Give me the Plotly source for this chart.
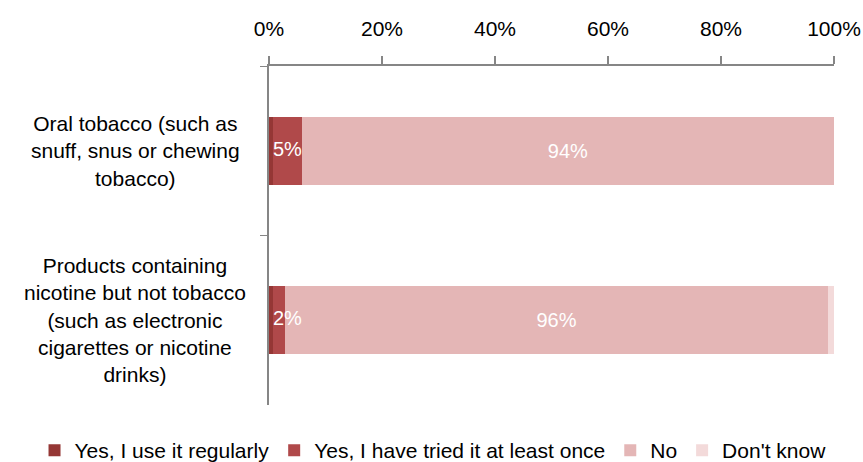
import plotly.graph_objects as go

categories = ["Oral tobacco (such as<br>snuff, snus or chewing<br>tobacco)",
              "Products containing<br>nicotine but not tobacco<br>(such as electronic<br>cigarettes or nicotine<br>drinks)"]
series_names = ["Yes, I use it regularly", "Yes, I have tried it at least once", "No", "Don't know"]
values = {
    "Yes, I use it regularly": [0.7, 0.7],
    "Yes, I have tried it at least once": [5.1, 2.1],
    "No": [94.2, 96.2],
    "Don't know": [0.0, 1.0],
}
labels = {
    "Yes, I use it regularly": ["", ""],
    "Yes, I have tried it at least once": ["5%", "2%"],
    "No": ["94%", "96%"],
    "Don't know": ["", ""],
}
colors = ["#953735", "#B0494A", "#E4B6B6", "#F3DADA"]
tick_vals = [0, 20, 40, 60, 80, 100]
tick_text = ["0%", "20%", "40%", "60%", "80%", "100%"]

font_family = "Liberation Sans, Arial, sans-serif"
FS = 21

fig = go.Figure()
for name, col in zip(series_names, colors):
    show_inside = name == "No"
    fig.add_trace(go.Bar(
        y=categories, x=values[name], name=name, orientation="h",
        marker=dict(color=col, line=dict(width=0)),
        text=labels[name] if show_inside else None,
        textposition="inside" if show_inside else "none", insidetextanchor="middle",
        textangle=0, constraintext="none",
        textfont=dict(color="white", size=FS - 1, family=font_family),
        hoverinfo="skip",
    ))

# label of the small "tried" segment, drawn on top so it can overflow its segment
tried_start = values["Yes, I use it regularly"]
fig.add_trace(go.Scatter(
    y=categories, x=tried_start, mode="text", text=labels["Yes, I have tried it at least once"],
    textposition="middle right", showlegend=False, hoverinfo="skip", cliponaxis=False,
    textfont=dict(color="white", size=FS - 1, family=font_family),
))

for cat in categories:
    fig.add_annotation(x=-0.237, xref="paper", xanchor="center", y=cat, yref="y",
                       yanchor="middle", text=cat, showarrow=False, align="center",
                       font=dict(size=FS, family=font_family, color="black"))

fig.update_layout(
    barmode="stack", bargap=0.6,
    width=863, height=462,
    margin=dict(l=269, r=29, t=66, b=57, autoexpand=False),
    paper_bgcolor="white", plot_bgcolor="white",
    font=dict(family=font_family, size=FS, color="black"),
    legend=dict(orientation="h", x=-0.415, xanchor="left", y=-0.074, yanchor="top",
                font=dict(size=FS), itemwidth=30, traceorder="normal"),
    showlegend=True,
)
fig.update_xaxes(side="top", range=[0, 100], tickvals=tick_vals, ticktext=tick_text,
                 showgrid=False, zeroline=False, showline=True, linecolor="#868686", linewidth=2,
                 ticks="outside", ticklen=8, tickcolor="#868686", tickwidth=2, ticklabelstandoff=12,
                 tickfont=dict(size=FS), automargin=False)
fig.update_yaxes(categoryorder="array", categoryarray=categories, autorange="reversed",
                 showgrid=False, showline=True, linecolor="#868686", linewidth=2,
                 ticks="outside", ticklen=7, tickcolor="#868686", tickwidth=1,
                 tickson="boundaries", showticklabels=False, automargin=False)

fig.write_html("out.html")
